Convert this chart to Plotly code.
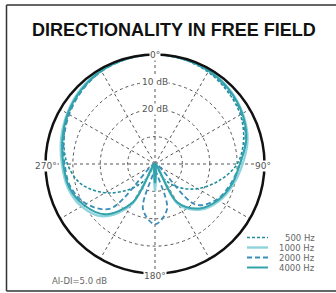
import plotly.graph_objects as go

W, H = 336, 293

# ---- data ----
angles = list(range(0, 360, 15))
freq_labels = ["500 Hz", "1000 Hz", "2000 Hz", "4000 Hz"]
db_500 = [0, -0.4, -1.2, -2.5, -4, -6.5, -10, -16, -22, -28, -34, -40,
          -32, -40, -34, -27, -19, -12, -8, -5.5, -3.5, -2, -0.8, -0.2]
db_1000 = [0, -0.2, -0.6, -1.5, -3, -5, -8, -10.5, -13, -16.5, -23, -40,
           -30, -40, -23, -13, -9, -7, -6, -4.5, -3, -1.5, -0.6, -0.1]
db_2000 = [0, -0.3, -0.9, -2, -3.5, -5.8, -9, -11.5, -14, -19, -40, -23,
           -18, -23, -40, -17, -11, -8, -7, -5.5, -3.8, -2.2, -0.9, -0.3]
db_4000 = [0, -0.2, -0.7, -1.7, -3.2, -5.5, -9, -11, -13.5, -17, -24, -40,
           -33, -40, -24, -14, -10, -7.5, -6.5, -5, -3.2, -1.8, -0.7, -0.2]
series = [db_500, db_1000, db_2000, db_4000]
ring_labels = ["10 dB", "20 dB"]
ring_values = [-10, -20]
angle_labels = ["0°", "90°", "180°", "270°"]

# ---- styles ----
styles = [
    dict(color="#1f8e98", width=1.6, dash="3px,2px"),
    dict(color="#8fd3dc", width=2.4, dash="solid"),
    dict(color="#3a8db8", width=1.8, dash="5px,3px"),
    dict(color="#32a3ab", width=2.0, dash="solid"),
]

fig = go.Figure()
for vals, st, name in zip(series, styles, freq_labels):
    fig.add_trace(go.Scatterpolar(
        r=vals + [vals[0]], theta=angles + [360], mode="lines",
        line=dict(color=st["color"], width=st["width"], dash=st["dash"], shape="spline", smoothing=1.0),
        name=name, showlegend=False, hoverinfo="skip"))

cx, cy, R = 155, 164, 109.5
px = lambda x: x / W
py = lambda y: 1 - y / H

fig.update_layout(
    width=W, height=H, margin=dict(l=0, r=0, t=0, b=0),
    paper_bgcolor="white", plot_bgcolor="white",
    polar=dict(
        domain=dict(x=[px(cx - R), px(cx + R)], y=[py(cy + R), py(cy - R)]),
        bgcolor="white",
        radialaxis=dict(range=[-40, 0], tickvals=[-30, -20, -10], showticklabels=False,
                        ticks="", showline=False, gridcolor="#555", griddash="dot", gridwidth=1),
        angularaxis=dict(rotation=90, direction="clockwise", dtick=30, showticklabels=False,
                         ticks="", showline=True, linecolor="#111", linewidth=2.5,
                         gridcolor="#555", griddash="dot", gridwidth=1),
    ),
)

def note(text, x, y, size, color, family="DejaVu Sans", xanchor="center", bg=None):
    d = dict(text=text, x=px(x), y=py(y), xref="paper", yref="paper", showarrow=False,
             xanchor=xanchor, yanchor="middle", borderpad=0,
             font=dict(family=family, size=size, color=color))
    if bg:
        d["bgcolor"] = bg
    return d

ann = []
ann.append(note("<b>DIRECTIONALITY IN FREE FIELD</b>", 174, 30, 18, "#111", family="Liberation Sans, Arial"))
for lab, v in zip(ring_labels, ring_values):
    rr = (v + 40) / 40 * R
    ann.append(note(lab, cx, cy - rr, 9, "#555", bg="white"))
for lab, (x, y) in zip(angle_labels, [(cx, cy - R), (cx + R - 2, cy + 2), (cx, cy + R + 2), (cx - R, cy + 2)]):
    ann.append(note(lab, x, y, 9, "#555", bg="white"))
ann.append(note("AI-DI=5.0 dB", 79, 281, 8.5, "#666"))

shapes = []
shapes.append(dict(type="line", xref="paper", yref="paper", x0=px(6.5), x1=1, y0=py(5), y1=py(5), line=dict(color="#333", width=1.5)))
shapes.append(dict(type="line", xref="paper", yref="paper", x0=px(6.5), x1=px(6.5), y0=py(5), y1=py(291), line=dict(color="#333", width=1.5)))
shapes.append(dict(type="line", xref="paper", yref="paper", x0=px(6.5), x1=1, y0=py(291), y1=py(291), line=dict(color="#333", width=1.5)))

# manual legend
rows = [237.5, 247.5, 257.5, 267.5]
for lab, st, yy in zip(freq_labels, styles, rows):
    shapes.append(dict(type="line", xref="paper", yref="paper", x0=px(247), x1=px(268), y0=py(yy), y1=py(yy),
                       line=dict(color=st["color"], width=st["width"], dash=st["dash"])))
    ann.append(note(lab, 316, yy, 8.5, "#666", xanchor="right"))

fig.update_layout(annotations=ann, shapes=shapes)
fig.write_html("out.html", config={"displayModeBar": False},
               post_script="document.body.style.margin='0px';document.body.style.overflow='hidden';")
